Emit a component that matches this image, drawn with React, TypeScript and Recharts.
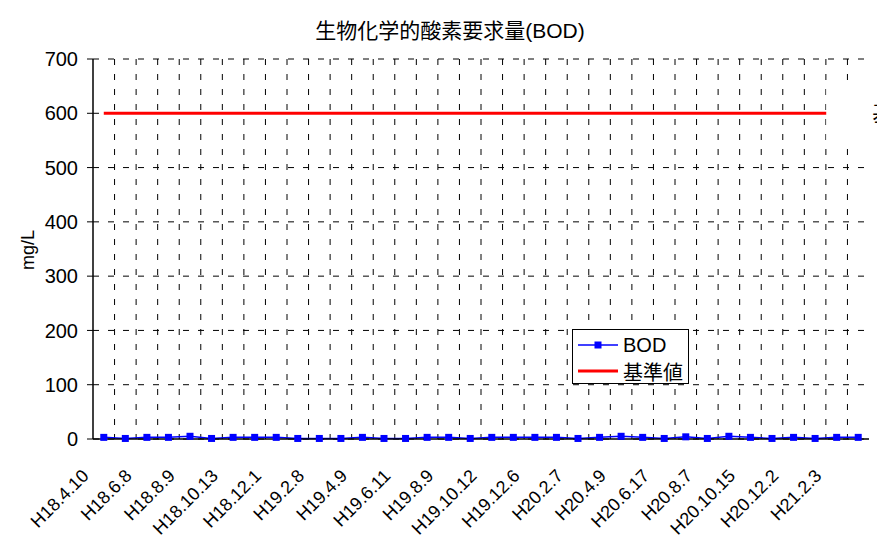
import React from 'react';
import { LineChart, Line, XAxis, YAxis, CartesianGrid, Legend, LabelList } from 'recharts';

const FONT = "'Liberation Sans', 'Noto Sans CJK JP', sans-serif";

const chartTitle = '生物化学的酸素要求量(BOD)';
const yAxisTitle = 'mg/L';
const bodName = 'BOD';
const standardName = '基準値';

const dates = [
  'H18.4.10', 'H18.5.9', 'H18.6.8', 'H18.7.11', 'H18.8.9', 'H18.9.12',
  'H18.10.13', 'H18.11.8', 'H18.12.1', 'H19.1.10', 'H19.2.8', 'H19.3.8',
  'H19.4.9', 'H19.5.10', 'H19.6.11', 'H19.7.10', 'H19.8.9', 'H19.9.11',
  'H19.10.12', 'H19.11.8', 'H19.12.6', 'H20.1.10', 'H20.2.7', 'H20.3.6',
  'H20.4.9', 'H20.5.8', 'H20.6.17', 'H20.7.10', 'H20.8.7', 'H20.9.11',
  'H20.10.15', 'H20.11.6', 'H20.12.2', 'H21.1.8', 'H21.2.3', 'H21.3.5',
];

const bodValues = [
  3, 1, 3, 3, 5, 1,
  3, 3, 3, 1, 1, 1,
  3, 1, 1, 3, 3, 1,
  3, 3, 3, 3, 1, 3,
  5, 3, 1, 4, 1, 5,
  3, 1, 3, 1, 3, 3,
];

const standardValues = [
  600, 600, 600, 600, 600, 600,
  600, 600, 600, 600, 600, 600,
  600, 600, 600, 600, 600, 600,
  600, 600, 600, 600, 600, 600,
  600, 600, 600, 600, 600, 600,
  600, 600, 600, 600, 600, 600,
];

const yTicks = [0, 100, 200, 300, 400, 500, 600, 700];

const data = dates.map((d, i) => ({ date: d, bod: bodValues[i], std: standardValues[i] }));

const XTick = (props: any) => {
  const { x, y, payload } = props;
  const tx = x - 14;
  const ty = y + 38;
  return (
    <text x={tx} y={ty} transform={`rotate(-45 ${tx} ${ty})`} textAnchor="end" fontSize={18} fill="#000" fontFamily={FONT}>
      {payload.value}
    </text>
  );
};

const SquareDot = (props: any) => {
  const { cx, cy, index } = props;
  return <rect key={`d${index}`} x={cx - 3.5} y={cy - 3.5} width={7} height={7} fill="#0000FF" />;
};

const StdLabel = (props: any) => {
  const { x, y, index } = props;
  if (index !== dates.length - 1) return null;
  return (
    <g>
      <rect x={x - 32} y={y - 31} width={90} height={58} fill="#fff" />
      <text x={x + 14} y={y} dominantBaseline="central" fontSize={22} fill="#000" fontFamily={FONT}>
        {standardName}
      </text>
    </g>
  );
};

const boundaryXs = ({ offset }: any) =>
  dates.slice(1).map((_, i) => offset.left + ((i + 1) * offset.width) / dates.length);

const LegendBox = () => (
  <div
    style={{
      width: 115,
      height: 53,
      border: '1px solid #000',
      background: '#fff',
      fontFamily: FONT,
      fontSize: 20,
      color: '#000',
      boxSizing: 'content-box',
    }}
  >
    <div style={{ display: 'flex', alignItems: 'center', height: 26, marginTop: 2 }}>
      <svg width={50} height={20}>
        <line x1={5} y1={10} x2={45} y2={10} stroke="#0000FF" strokeWidth={1.5} />
        <rect x={21.5} y={6.5} width={7} height={7} fill="#0000FF" />
      </svg>
      <span>{bodName}</span>
    </div>
    <div style={{ display: 'flex', alignItems: 'center', height: 26 }}>
      <svg width={50} height={20}>
        <line x1={5} y1={10} x2={45} y2={10} stroke="#FF0000" strokeWidth={3} />
      </svg>
      <span>{standardName}</span>
    </div>
  </div>
);

export default function App() {
  return (
    <div
      style={{
        position: 'relative',
        marginLeft: -1,
        marginTop: -8,
        paddingTop: 8,
        borderLeft: '1px solid #000',
        width: 877,
        height: 545,
        background: '#fff',
      }}
    >
      <LineChart width={877} height={545} data={data} margin={{ top: 51, right: 16, bottom: 10, left: 25 }}>
        <CartesianGrid
          stroke="#000"
          strokeDasharray="6 9"
          verticalCoordinatesGenerator={boundaryXs}
        />
        <XAxis
          dataKey="date"
          scale="band"
          interval={1}
          tickLine={false}
          tickSize={0}
          tickMargin={0}
          height={104}
          axisLine={{ stroke: '#000', strokeWidth: 1.5 }}
          tick={<XTick />}
        />
        <XAxis xAxisId="top" orientation="top" dataKey="date" scale="band" height={0} tick={false} tickLine={false} axisLine={{ stroke: '#000' }} />
        <YAxis
          domain={[0, 700]}
          ticks={yTicks}
          interval={0}
          width={60}
          tickSize={6}
          tickMargin={9}
          axisLine={{ stroke: '#000', strokeWidth: 1.5 }}
          tickLine={{ stroke: '#000' }}
          tick={{ fontSize: 20, fill: '#000', fontFamily: FONT }}
        />
        <YAxis yAxisId="right" orientation="right" domain={[0, 700]} width={0} tick={false} tickLine={false} axisLine={{ stroke: '#000' }} />
        <Line
          type="linear"
          dataKey="std"
          name={standardName}
          stroke="#FF0000"
          strokeWidth={3}
          dot={false}
          activeDot={false}
          isAnimationActive={false}
        >
          <LabelList dataKey="std" content={<StdLabel />} />
        </Line>
        <Line
          type="linear"
          dataKey="bod"
          name={bodName}
          stroke="#0000FF"
          strokeWidth={1.5}
          dot={<SquareDot />}
          activeDot={false}
          isAnimationActive={false}
        />
        <Legend
          layout="vertical"
          align="center"
          verticalAlign="middle"
          content={<LegendBox />}
          wrapperStyle={{ position: 'absolute', left: 564, top: 321, width: 117, height: 55 }}
        />
        <text x={442} y={22} textAnchor="middle" dominantBaseline="central" fontSize={21} fill="#000" fontFamily={FONT}>
          {chartTitle}
        </text>
        <text x={20} y={242} transform="rotate(-90 20 242)" textAnchor="middle" dominantBaseline="central" fontSize={18} fill="#000" fontFamily={FONT}>
          {yAxisTitle}
        </text>
      </LineChart>
    </div>
  );
}
